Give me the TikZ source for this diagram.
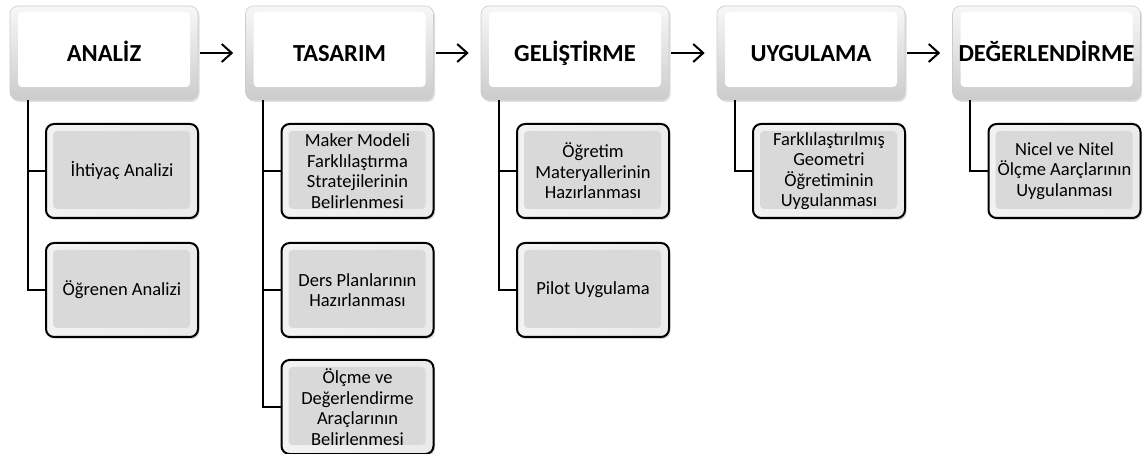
\documentclass[tikz,border=0pt]{standalone}
\usepackage{fontspec}
\setmainfont{Carlito}
\usetikzlibrary{arrows.meta,shadows}

\tikzset{
  phase/.style={rounded corners=8pt, draw=black!20, line width=0.6pt,
    minimum width=188pt, minimum height=94pt, inner sep=0pt,
    text height=17pt, text depth=0pt,
    top color=black!3, bottom color=black!20,
    drop shadow={shadow xshift=1.5pt, shadow yshift=-2pt, opacity=0.25},
    path picture={\fill[white, rounded corners=4pt]
      ([shift={(8pt,-6pt)}]path picture bounding box.north west) rectangle
      ([shift={(-8pt,13pt)}]path picture bounding box.south east);},
    font=\bfseries\fontsize{24.5}{28}\selectfont},
  task/.style={rounded corners=8pt, draw=black, line width=2pt,
    minimum width=152pt, minimum height=94pt, inner sep=1pt, align=center,
    left color=black!5, right color=black!8,
    drop shadow={shadow xshift=1.5pt, shadow yshift=-2pt, opacity=0.3},
    path picture={\fill[black!15, rounded corners=4pt]
      ([shift={(7pt,-7pt)}]path picture bounding box.north west) rectangle
      ([shift={(-8pt,9pt)}]path picture bounding box.south east);},
    font=\fontsize{18.5}{20.5}\selectfont},
  flow/.style={-{Straight Barb[length=10pt,width=18pt,line width=2pt]},
    line width=2pt, shorten <=2pt, shorten >=12pt},
  branch/.style={line width=2.2pt}
}

\begin{document}
\begin{tikzpicture}[x=1pt, y=-1pt]
  \useasboundingbox (0,0) rectangle (1144,454);

  % phases
  \node[phase] (analiz) at (104,53) {ANALİZ};
  \node[phase] (tasarim) at (339.5,53) {TASARIM};
  \node[phase] (gelistirme) at (575,53) {GELİŞTİRME};
  \node[phase] (uygulama) at (811,53) {UYGULAMA};
  \node[phase] (degerlendirme) at (1046.5,53) {DEĞERLENDİRME};

  \draw[flow] (analiz) -- (tasarim);
  \draw[flow] (tasarim) -- (gelistirme);
  \draw[flow] (gelistirme) -- (uygulama);
  \draw[flow] (uygulama) -- (degerlendirme);

  % tasks
  \node[task] (ihtiyac) at (122,171) {İhtiyaç Analizi};
  \node[task] (ogrenen) at (122,290) {Öğrenen Analizi};
  \node[task] (maker) at (357.5,171) {Maker Modeli\\Farklılaştırma\\Stratejilerinin\\Belirlenmesi};
  \node[task] (dersplan) at (357.5,290) {Ders Planlarının\\Hazırlanması};
  \node[task] (olcme) at (357.5,407) {Ölçme ve\\Değerlendirme\\Araçlarının\\Belirlenmesi};
  \node[task] (ogretim) at (593,171) {Öğretim\\Materyallerinin\\Hazırlanması};
  \node[task] (pilot) at (593,290) {Pilot Uygulama};
  \node[task] (farkli) at (829,171) {Farklılaştırılmış\\Geometri\\Öğretiminin\\Uygulanması};
  \node[task] (nicel) at (1064.5,171) {Nicel ve Nitel\\Ölçme Aarçlarının\\Uygulanması};

  \coordinate (a0) at ([xshift=18pt]analiz.south west);
  \coordinate (t0) at ([xshift=18pt]tasarim.south west);
  \coordinate (g0) at ([xshift=18pt]gelistirme.south west);
  \coordinate (u0) at ([xshift=18pt]uygulama.south west);
  \coordinate (d0) at ([xshift=18pt]degerlendirme.south west);

  \draw[branch] (a0) |- (ihtiyac.west);
  \draw[branch] (a0) |- (ogrenen.west);
  \draw[branch] (t0) |- (maker.west);
  \draw[branch] (t0) |- (dersplan.west);
  \draw[branch] (t0) |- (olcme.west);
  \draw[branch] (g0) |- (ogretim.west);
  \draw[branch] (g0) |- (pilot.west);
  \draw[branch] (u0) |- (farkli.west);
  \draw[branch] (d0) |- (nicel.west);
\end{tikzpicture}
\end{document}
